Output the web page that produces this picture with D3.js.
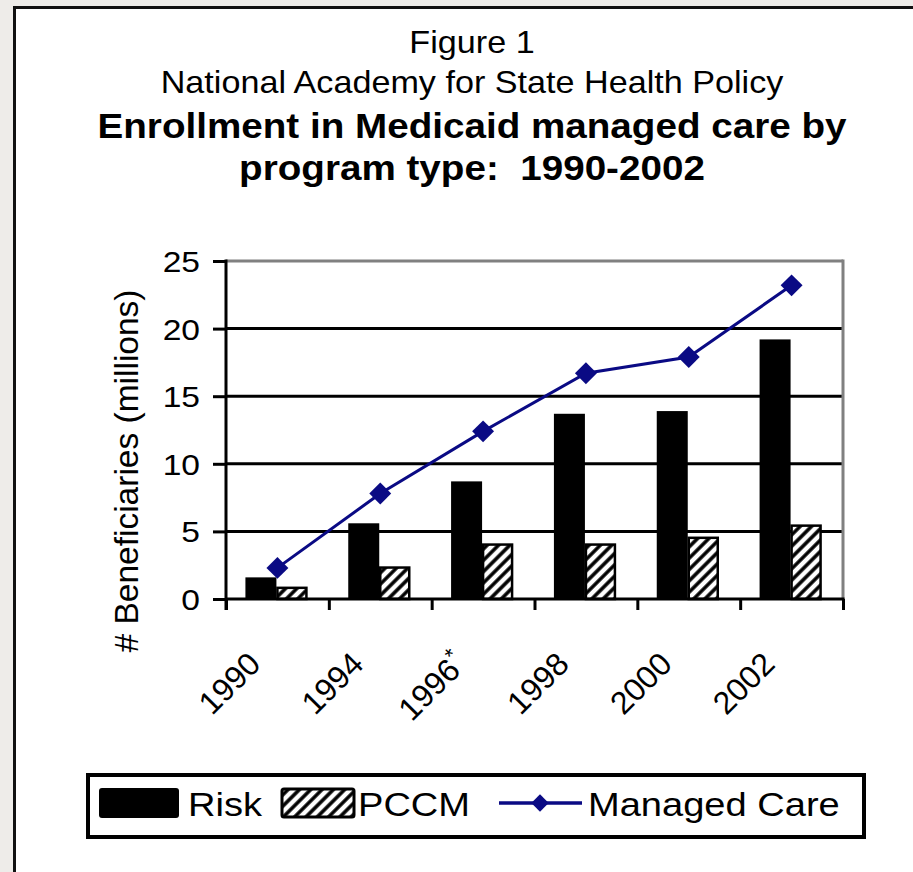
<!DOCTYPE html>
<html>
<head>
<meta charset="utf-8">
<script src="https://cdn.jsdelivr.net/npm/d3@7"></script>
<style>
  html, body { margin: 0; padding: 0; background: #eeece9; }
  svg { display: block; }
  text { font-family: "Liberation Sans", Arial, sans-serif; fill: #000; white-space: pre; }
</style>
</head>
<body>
<svg id="chart" width="913" height="872"></svg>
<script>
// ---- data ----
const categories = ["1990", "1994", "1996*", "1998", "2000", "2002"];
const riskValues = [1.6, 5.6, 8.7, 13.7, 13.9, 19.2];
const pccmValues = [0.9, 2.4, 4.1, 4.1, 4.6, 5.5];
const managedCareValues = [2.3, 7.8, 12.4, 16.7, 17.9, 23.2];
const yTickValues = [0, 5, 10, 15, 20, 25];
const seriesNames = ["Risk", "PCCM", "Managed Care"];
const titleLines = ["Figure 1", "National Academy for State Health Policy"];
const boldTitleLines = ["Enrollment in Medicaid managed care by", "program type:  1990-2002"];
const yAxisTitle = "# Beneficiaries (millions)";

// ---- layout ----
const SX = 1.12; // horizontal glyph stretch of the original
const plot = { left: 226, right: 843, top: 261, bottom: 599 };
const navy = "#0a0a84";

const svg = d3.select("#chart");

// background + panel
svg.append("rect").attr("x", 0).attr("y", 0).attr("width", 913).attr("height", 872).attr("fill", "#eeece9");
svg.append("rect").attr("x", 14.5).attr("y", 7.5).attr("width", 920).attr("height", 900)
  .attr("fill", "#fff").attr("stroke", "#111").attr("stroke-width", 3);

// defs: hatch pattern
const defs = svg.append("defs");
const pat = defs.append("pattern").attr("id", "hatch").attr("patternUnits", "userSpaceOnUse")
  .attr("width", 8).attr("height", 8).attr("patternTransform", "rotate(45)");
pat.append("rect").attr("width", 8).attr("height", 8).attr("fill", "#fff");
pat.append("line").attr("x1", 2).attr("y1", 0).attr("x2", 2).attr("y2", 8)
  .attr("stroke", "#000").attr("stroke-width", 3.5);

// helper for stretched text
function stext(g, x, y, str, size, opts = {}) {
  const sx = opts.sx != null ? opts.sx : SX;
  const t = g.append("text")
    .attr("transform", `translate(${x},${y})` + (opts.rotate ? ` rotate(${opts.rotate})` : "") + ` scale(${sx},1)`)
    .attr("text-anchor", opts.anchor || "start")
    .style("font-size", size + "px")
    .style("font-weight", opts.bold ? "bold" : "normal")
    .text(str);
  return t;
}

// titles
const tg = svg.append("g");
stext(tg, 472, 53, titleLines[0], 30.5, { anchor: "middle" });
stext(tg, 472, 93, titleLines[1], 30.5, { anchor: "middle" });
stext(tg, 472, 138, boldTitleLines[0], 34.5, { anchor: "middle", bold: true });
stext(tg, 472, 180, boldTitleLines[1], 34.5, { anchor: "middle", bold: true });

// scales
const x = d3.scaleBand().domain(categories).range([plot.left, plot.right]).padding(0);
const xEdge = d3.scaleLinear().domain([0, categories.length]).range([plot.left, plot.right]);
const xSub = d3.scaleBand().domain(["Risk", "PCCM"]).range([-32, 30]).padding(0);
const y = d3.scaleLinear().domain([0, 25]).range([plot.bottom, plot.top]);

// gridlines
const grid = svg.append("g");
grid.selectAll("line.g").data(yTickValues.filter(v => v > 0)).join("line")
  .attr("x1", plot.left).attr("x2", plot.right)
  .attr("y1", d => y(d)).attr("y2", d => y(d))
  .attr("stroke", d => d === 25 ? "#808080" : "#000")
  .attr("stroke-width", 3);
grid.append("line").attr("x1", plot.right).attr("x2", plot.right)
  .attr("y1", y(25) - 1.5).attr("y2", y(0)).attr("stroke", "#808080").attr("stroke-width", 3);

// bars
const bw = xSub.bandwidth();
const bars = svg.append("g");
bars.selectAll("rect.risk").data(categories).join("rect")
  .attr("x", (d) => x(d) + x.bandwidth() / 2 + xSub("Risk"))
  .attr("y", (d, i) => y(riskValues[i]))
  .attr("width", bw)
  .attr("height", (d, i) => y(0) - y(riskValues[i]))
  .attr("fill", "#000");
bars.selectAll("rect.pccm").data(categories).join("rect")
  .attr("x", (d) => x(d) + x.bandwidth() / 2 + xSub("PCCM") + 1)
  .attr("y", (d, i) => y(pccmValues[i]) + 1)
  .attr("width", bw - 2)
  .attr("height", (d, i) => y(0) - y(pccmValues[i]) - 1)
  .attr("fill", "url(#hatch)")
  .attr("stroke", "#000").attr("stroke-width", 2.5);

// y axis
const yAxis = svg.append("g").attr("transform", `translate(${plot.left},0)`)
  .call(d3.axisLeft(y).tickValues(yTickValues).tickSize(13).tickFormat(d3.format("d")));
yAxis.select(".domain").remove();
yAxis.selectAll(".tick line").attr("stroke", "#000").attr("stroke-width", 3);
yAxis.selectAll(".tick text")
  .attr("x", 0).attr("dy", null)
  .attr("transform", `translate(-26,10.5) scale(${SX},1)`)
  .attr("text-anchor", "end")
  .style("font-size", "30px").style("font-family", "'Liberation Sans', Arial, sans-serif").attr("fill", "#000");
svg.append("line").attr("x1", plot.left).attr("x2", plot.left)
  .attr("y1", y(25) - 1.5).attr("y2", plot.bottom + 11).attr("stroke", "#000").attr("stroke-width", 3);

// x axis
const xAxis = svg.append("g").attr("transform", `translate(0,${plot.bottom})`)
  .call(d3.axisBottom(xEdge).ticks(categories.length).tickSize(11).tickFormat(""));
xAxis.select(".domain").remove();
xAxis.selectAll(".tick line").attr("stroke", "#000").attr("stroke-width", 3);
svg.append("line").attr("x1", plot.left).attr("x2", plot.right + 1.5)
  .attr("y1", plot.bottom).attr("y2", plot.bottom).attr("stroke", "#000").attr("stroke-width", 3);

// x labels
const xl = svg.append("g");
categories.forEach(c => {
  const cx = x(c) + x.bandwidth() / 2 - 15;
  const base = c.replace("*", "");
  const t = stext(xl, cx, 666, base, 32, { anchor: "end", rotate: -45, sx: 1 });
  if (c.includes("*")) {
    t.append("tspan").attr("dy", -12).style("font-size", "22px").text("*");
  }
});

// y axis title
svg.append("text")
  .attr("transform", `translate(138,471) rotate(-90)`)
  .attr("text-anchor", "middle")
  .style("font-size", "33.5px")
  .text(yAxisTitle);

// line series
const line = d3.line()
  .x((d, i) => x(categories[i]) + x.bandwidth() / 2)
  .y(d => y(d));
svg.append("path").datum(managedCareValues).attr("d", line)
  .attr("fill", "none").attr("stroke", navy).attr("stroke-width", 3);
const diamond = d3.symbol().type(d3.symbolSquare).size(240);
svg.selectAll("path.mk").data(managedCareValues).join("path")
  .attr("d", diamond)
  .attr("transform", (d, i) => `translate(${x(categories[i]) + x.bandwidth() / 2},${y(d)}) rotate(45)`)
  .attr("fill", navy);

// legend
const lg = svg.append("g");
lg.append("rect").attr("x", 88).attr("y", 775).attr("width", 776).attr("height", 62)
  .attr("fill", "#fff").attr("stroke", "#000").attr("stroke-width", 4);
lg.append("rect").attr("x", 99).attr("y", 788).attr("width", 80).attr("height", 30).attr("rx", 3)
  .attr("fill", "#000");
stext(lg, 188, 816, seriesNames[0], 34);
lg.append("rect").attr("x", 282).attr("y", 789).attr("width", 72).attr("height", 28).attr("rx", 2)
  .attr("fill", "url(#hatch)").attr("stroke", "#000").attr("stroke-width", 3);
stext(lg, 358, 816, seriesNames[1], 34);
lg.append("line").attr("x1", 499).attr("x2", 582).attr("y1", 803).attr("y2", 803)
  .attr("stroke", navy).attr("stroke-width", 3.5);
lg.append("path").attr("d", d3.symbol().type(d3.symbolSquare).size(150))
  .attr("transform", "translate(540,803) rotate(45)").attr("fill", navy);
stext(lg, 588, 816, seriesNames[2], 34);
</script>
</body>
</html>
